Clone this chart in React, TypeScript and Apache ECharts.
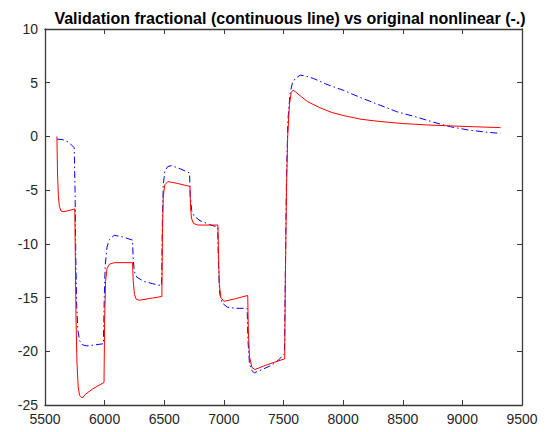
import React, { useEffect, useRef } from "react";
import * as echarts from "echarts";

// Fractional model response (continuous red line)
const fracX = [
  5600, 5605, 5612, 5620, 5635, 5660, 5700, 5750,
  5755, 5760, 5768, 5778, 5790, 5812, 5840, 5900, 5995,
  6000, 6008, 6020, 6040, 6080, 6234,
  6240, 6250, 6265, 6290, 6400, 6480,
  6485, 6492, 6505, 6530, 6600, 6715,
  6720, 6728, 6745, 6780, 6950,
  6955, 6962, 6975, 7000, 7100, 7200,
  7205, 7215, 7235, 7260, 7350, 7510,
  7515, 7525, 7535, 7550, 7565, 7580, 7600, 7650, 7700, 7800, 7900,
  8000, 8150, 8300, 8500, 8700, 8900, 9100, 9320,
];
const fracY = [
  0, -3.5, -5.5, -6.5, -6.95, -7.0, -6.9, -6.75,
  -12, -17, -21, -23.3, -24.1, -24.35, -24.0, -23.5, -22.9,
  -17, -13.5, -12.3, -11.9, -11.75, -11.75,
  -13.5, -14.7, -15.15, -15.25, -15.05, -14.9,
  -9, -5.5, -4.5, -4.2, -4.35, -4.65,
  -6.5, -7.6, -8.1, -8.25, -8.25,
  -11, -13.8, -15.0, -15.35, -15.1, -14.8,
  -18, -20.5, -21.5, -21.7, -21.3, -20.7,
  -14, -5, 0, 3, 4.1, 4.3, 4.15, 3.7, 3.25, 2.7, 2.25,
  1.95, 1.6, 1.4, 1.2, 1.07, 0.98, 0.9, 0.82,
];

// Original nonlinear model response (blue dash-dot line)
const nonlinX = [
  5600, 5650, 5700, 5745,
  5752, 5758, 5765, 5775, 5790, 5815, 5850, 5920, 5990,
  5997, 6005, 6020, 6040, 6080, 6150, 6234,
  6240, 6250, 6270, 6330, 6400, 6478,
  6484, 6492, 6505, 6530, 6560, 6620, 6712,
  6718, 6730, 6750, 6800, 6880, 6948,
  6955, 6965, 6985, 7030, 7100, 7195,
  7202, 7215, 7235, 7255, 7300, 7400, 7460, 7508,
  7515, 7525, 7537, 7555, 7575, 7600, 7640, 7680, 7750, 7850,
  8000, 8150, 8300, 8450, 8600, 8750, 8900, 9050, 9200, 9320,
];
const nonlinY = [
  -0.25, -0.3, -0.55, -1.05,
  -5, -11, -15.5, -18, -19.0, -19.4, -19.5, -19.4, -19.3,
  -15, -12, -10.3, -9.6, -9.2, -9.35, -9.65,
  -11.5, -12.6, -13.1, -13.5, -13.7, -13.9,
  -8, -4.5, -3.2, -2.8, -2.72, -2.95, -3.4,
  -5.5, -6.9, -7.4, -7.85, -8.2, -8.45,
  -12, -14.6, -15.5, -15.9, -16, -16,
  -19, -21.2, -21.8, -22.0, -21.8, -21.3, -20.8, -20.2,
  -13, -4, 1.5, 4, 5.0, 5.4, 5.7, 5.65, 5.4, 4.9,
  4.3, 3.6, 2.95, 2.3, 1.85, 1.35, 0.9, 0.6, 0.4, 0.28,
];

const X_MIN = 5500;
const X_MAX = 9500;
const X_STEP = 500;
const Y_MIN = -25;
const Y_MAX = 10;
const Y_STEP = 5;

const TITLE = "Validation fractional (continuous line) vs original nonlinear (-.)";
const FONT = "Liberation Sans, Arial, Helvetica, sans-serif";
const AXIS_COLOR = "#3a3a3a";
const LABEL_COLOR = "#262626";

const pairs = (xs: number[], ys: number[]) => xs.map((x, i) => [x, ys[i]]);

export default function App() {
  const ref = useRef<HTMLDivElement>(null);

  useEffect(() => {
    if (!ref.current) return;
    const chart = echarts.init(ref.current, null, { renderer: "svg" });

    const boxLine = { show: true, onZero: false, lineStyle: { color: AXIS_COLOR, width: 1.3 } };
    const tick = { show: true, inside: true, length: 5, lineStyle: { color: AXIS_COLOR, width: 1 } };
    const tickLabel = {
      fontFamily: FONT,
      fontSize: 14,
      color: LABEL_COLOR,
      margin: 7,
      formatter: (v: number) => String(v),
    };

    chart.setOption({
      animation: false,
      backgroundColor: "#ffffff",
      title: {
        text: TITLE,
        left: 285,
        textAlign: "center",
        top: 5,
        textStyle: { fontFamily: FONT, fontSize: 16, fontWeight: "bold", color: "#000" },
      },
      grid: { left: 45, right: 27, top: 29, bottom: 27, containLabel: false },
      xAxis: [
        {
          type: "value",
          min: X_MIN,
          max: X_MAX,
          interval: X_STEP,
          axisLine: boxLine,
          axisTick: tick,
          splitLine: { show: false },
          axisLabel: tickLabel,
        },
        {
          type: "value",
          position: "top",
          min: X_MIN,
          max: X_MAX,
          interval: X_STEP,
          axisLine: boxLine,
          axisTick: tick,
          splitLine: { show: false },
          axisLabel: { show: false },
        },
      ],
      yAxis: [
        {
          type: "value",
          min: Y_MIN,
          max: Y_MAX,
          interval: Y_STEP,
          axisLine: boxLine,
          axisTick: tick,
          splitLine: { show: false },
          axisLabel: tickLabel,
        },
        {
          type: "value",
          position: "right",
          min: Y_MIN,
          max: Y_MAX,
          interval: Y_STEP,
          axisLine: boxLine,
          axisTick: tick,
          splitLine: { show: false },
          axisLabel: { show: false },
        },
      ],
      series: [
        {
          name: "original nonlinear",
          type: "line",
          data: pairs(nonlinX, nonlinY),
          showSymbol: false,
          lineStyle: { color: "#0000ff", width: 1, type: [7, 3, 1.5, 3] },
          z: 2,
        },
        {
          name: "fractional",
          type: "line",
          data: pairs(fracX, fracY),
          showSymbol: false,
          lineStyle: { color: "#ff0000", width: 1 },
          z: 3,
        },
      ],
    });

    return () => chart.dispose();
  }, []);

  return (
    <div
      ref={ref}
      style={{ position: "absolute", left: 0, top: 0, width: 549, height: 432, background: "#fff" }}
    />
  );
}
